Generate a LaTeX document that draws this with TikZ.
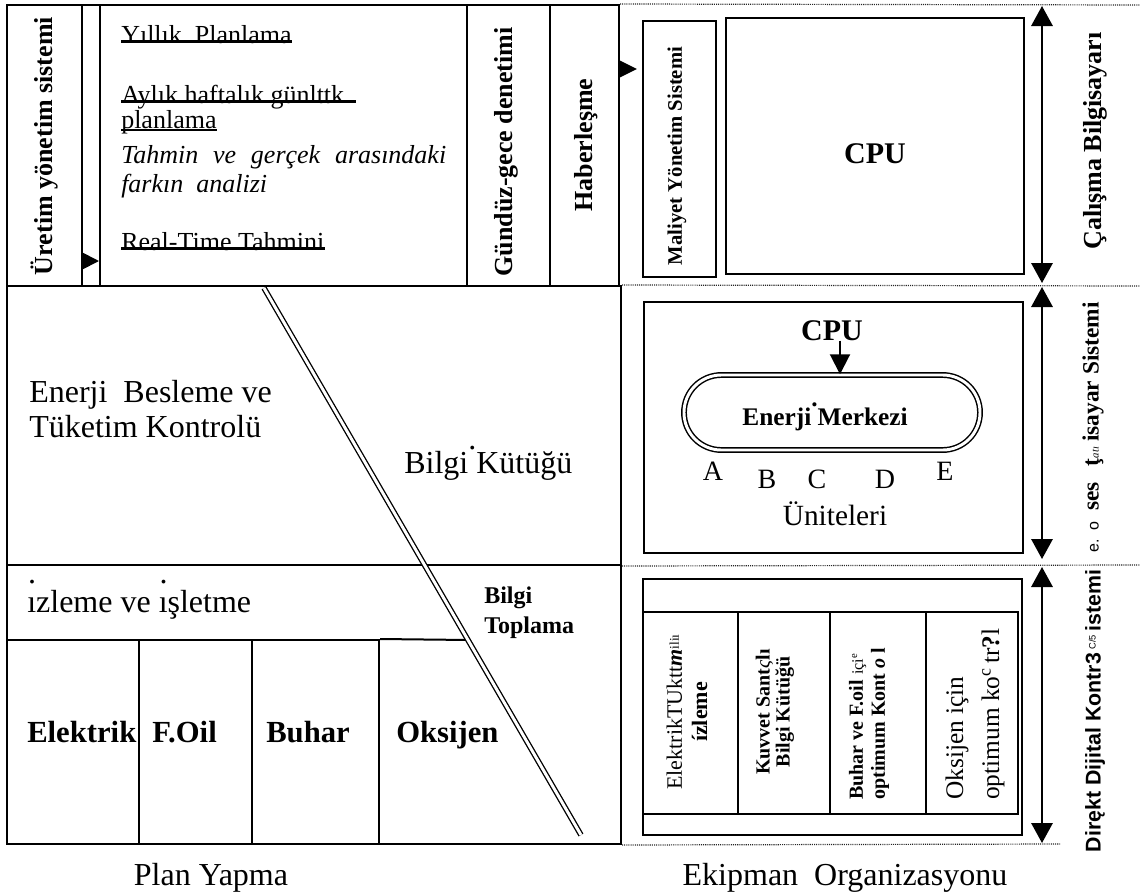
\documentclass[tikz,border=0pt]{standalone}
\usepackage{fontspec}
\setmainfont{Liberation Serif}
\setsansfont{Liberation Sans}
\usetikzlibrary{arrows.meta,fit,calc}
% dot floating above a letter, and a high dot for a dotless i
\newcommand{\rdot}{\rlap{\raisebox{0.72em}{.}}}
\newcommand{\hidot}{\rlap{\raisebox{0.9em}{\kern0.03em.}}}
\newcommand{\fsz}[2]{\fontsize{#1}{#2}\selectfont}
\begin{document}
\begin{tikzpicture}[x=0.75pt,y=-0.75pt,
  box/.style={draw,line width=1.5pt,inner sep=0pt},
  lbl/.style={inner sep=0pt},
  vlbl/.style={inner sep=0pt,rotate=90},
  tri/.style={line width=1.5pt,-{Triangle[width=13.5pt,length=13.5pt]}},
  dbl/.style={line width=1.6pt,{Triangle[width=16pt,length=15pt]}-{Triangle[width=16pt,length=15pt]}},
  dotted rule/.style={line width=0.9pt,dash pattern=on 0.8pt off 0.8pt,black!85},
  strike/.style={line width=1.8pt},
  plantext/.style={lbl,anchor=base west,font=\fsz{19.5}{23}},
  bigtext/.style={lbl,anchor=base west,font=\fsz{24}{28}},
  cell/.style={lbl,anchor=base west,font=\bfseries\fsz{23}{27}},
]
\useasboundingbox (0,0) rectangle (1140,893);

% ---------- top row: planning strip ----------
\node[box,fit={(7,5) (82,286)}] (uretim) {};
\node[box,fit={(82,5) (100,286)}] (gap) {};
\node[box,fit={(100,5) (467,286)}] (plan) {};
\node[box,fit={(467,5) (550,286)}] (gunduz) {};
\node[box,fit={(550,5) (619,286)}] (haber) {};

\node[vlbl,font=\bfseries\fsz{19.5}{23}] at (44,146) {Üretim yönetim sistemi};
\node[vlbl,font=\bfseries\fsz{19.5}{23}] at (506,152) {Gündüz-gece denetimi};
\node[vlbl,font=\bfseries\fsz{19.5}{23}] at (586,145) {Haberleşme};

\coordinate (ua) at (0,261);
\draw[tri] (uretim.east |- ua) -- (plan.west |- ua);

\node[plantext] (p1) at (121,43) {Yıllık\ \ Planlama};
\draw[strike] ([yshift=1.2pt]p1.base west) -- ([yshift=1.2pt]p1.base east);
\node[plantext] (p2) at (121,103) {Aylık haftalık günlttk};
\draw[strike] ([yshift=1.2pt]p2.base west) -- ([xshift=9pt,yshift=1.2pt]p2.base east);
\node[plantext] (p3) at (121,128) {planlama};
\draw[strike] ([yshift=-1.5pt]p3.base west) -- ([yshift=-1.5pt]p3.base east);
\node[plantext,font=\itshape\fsz{19.5}{23}] (p4) at (121,163) {\makebox[243.75pt][s]{Tahmin ve gerçek arasındaki}};
\node[plantext,font=\itshape\fsz{19.5}{23}] (p5) at (121,192) {farkın\ \ analizi};
\node[plantext] (p6) at (121,250) {Real-Time Tahmini};
\draw[strike] ([yshift=1.2pt]p6.base west) -- ([yshift=1.2pt]p6.base east);

% ---------- left panel ----------
\node[box,fit={(7,286) (621,565)}] (energy) {};
\node[box,fit={(7,565) (621,844)}] (lower) {};
\node[box,fit={(7,640) (139,844)}] (elb) {};
\node[box,fit={(139,640) (252,844)}] (fob) {};
\node[box,fit={(252,640) (379,844)}] (bub) {};

\coordinate (d1) at (264,288);
\coordinate (d2) at (581,835);
\coordinate (d3) at ($(d1)!0.6435!(d2)$);
\draw[line width=1.5pt] (bub.north east) -- (d3);
\draw[double,line width=1pt,double distance=2.2pt] (d1) -- (d2);

\node[bigtext] at (29,402) {Enerji\ \ Besleme ve};
\node[bigtext] at (29,437) {Tüketim Kontrolü};
\node[bigtext] at (404,473) {Bilgi\rdot\ Kütüğü};
\node[bigtext] at (27,612) {\hidot ızleme ve \hidot ışletme};
\node[lbl,anchor=base west,font=\bfseries\fsz{18}{21}] at (484,603) {Bilgi};
\node[lbl,anchor=base west,font=\bfseries\fsz{18}{21}] at (484,633) {Toplama};
\node[cell] at (27,742) {Elektrik};
\node[cell] at (152,742) {F.Oil};
\node[cell] at (266,742) {Buhar};
\node[cell] at (396,742) {Oksijen};

\node[lbl,anchor=base,font=\fsz{24}{28}] at (211,885) {Plan Yapma};

% ---------- right panel: working computer ----------
\node[box,fit={(643,21) (716,277)}] (maliyet) {};
\node[vlbl,font=\bfseries\fsz{15.5}{18}] at (677,156) {Maliyet Yönetim Sistemi};
\node[box,fit={(726,18) (1024,274)}] (cpu1) {};
\node[lbl,anchor=base,font=\bfseries\fsz{22.5}{27}] at (875,163) {CPU};

\coordinate (hm) at (0,69);
\draw[line width=1.5pt,-{Triangle[width=13.5pt,length=14pt]},shorten >=3.75pt] (haber.east |- hm) -- (maliyet.west |- hm);

\node[vlbl,font=\bfseries\fsz{19.5}{23}] at (1095,141) {Çalışma Bilgisayarı};

% ---------- right panel: process computer ----------
\node[box,fit={(644,302) (1023,553)}] (pbox) {};
\node[lbl,anchor=base,font=\bfseries\fsz{22.5}{27}] (cpu2) at (832,340) {CPU};
\node[draw,double,line width=1.1pt,double distance=2.2pt,rounded corners=28pt,inner sep=0pt,fit={(684,375) (980,450)}] (merkez) {};
\coordinate (mc) at (840,0);
\draw[line width=1.5pt,-{Triangle[width=15pt,length=15pt]}] (cpu2.south -| mc) -- (merkez.north -| mc);
\node[lbl,anchor=base,font=\bfseries\fsz{19}{23}] at (825,425) {Enerji\rdot\ Merkezi};
\node[lbl,anchor=base,font=\fsz{21}{25}] at (713,480) {A};
\node[lbl,anchor=base,font=\fsz{21}{25}] at (767,488) {B};
\node[lbl,anchor=base,font=\fsz{21}{25}] at (817,488) {C};
\node[lbl,anchor=base,font=\fsz{21}{25}] at (885,488) {D};
\node[lbl,anchor=base,font=\fsz{21}{25}] at (945,480) {E};
\node[lbl,anchor=base,font=\fsz{22}{26}] at (835,525) {Üniteleri};

\node[vlbl,anchor=west,font=\bfseries\fsz{17.5}{20}] at (1093,553)
  {{\sffamily\mdseries\fsz{12}{14}e.\hspace{7pt}o}\hspace{8pt}ses\hspace{12pt}ţ{\mdseries\itshape\fsz{8}{9}atı}\hspace{4pt}isayar Sistemi};

% ---------- right panel: direct digital control ----------
\node[box,fit={(643,579) (1022,835)}] (ddc) {};
\node[box,fit={(643,612) (738,814)}] (c1) {};
\node[box,fit={(738,612) (830,814)}] (c2) {};
\node[box,fit={(830,612) (926,814)}] (c3) {};
\node[box,fit={(926,612) (1018,814)}] (c4) {};

\node[vlbl,align=center,font=\fsz{16.5}{19}] at (687,712)
  {ElektrikTUktt{\bfseries\itshape m}{\fsz{10}{19}\raisebox{0.5ex}{iliı}}\\{\bfseries ízleme}};
\node[vlbl,align=center,font=\bfseries\fsz{15}{15}] at (775,712)
  {Kuvvet Sant{\mdseries\itshape ς}lı\\Bilgi Kütüğü};
\node[vlbl,align=left,anchor=west,font=\bfseries\fsz{15}{16.5}] at (869,800)
  {Buhar ve F.oil {\mdseries\fsz{12}{16.5}içi\textsuperscript{e}}\\optimum Kont {\itshape o} l};
\node[vlbl,align=left,anchor=west,font=\fsz{19}{27}] at (975,800)
  {Oksijen için\\optimum ko\textsuperscript{c}\,tr{\bfseries ?}l};

\node[vlbl,font=\sffamily\bfseries\fsz{16}{19}] at (1095,711)
  {Dirękt Dijital Kontr3\,{\mdseries\fsz{7}{8}\raisebox{1ex}{C/5}}\,istemi};

\node[lbl,anchor=base,font=\fsz{24}{28}] at (845,885) {Ekipman\ \ Organizasyonu};

% ---------- level arrows and dotted separators ----------
\coordinate (t1) at (1042,6);   \coordinate (b1) at (1042,283);
\coordinate (t2) at (1042,287); \coordinate (b2) at (1042,559);
\coordinate (t3) at (1042,567); \coordinate (b3) at (1042,843);
\draw[dbl] (t1) -- (b1);
\draw[dbl] (t2) -- (b2);
\draw[dbl] (t3) -- (b3);

\coordinate (r0) at (1140,5);
\coordinate (r1) at (1140,286);
\coordinate (r2) at (1140,565);
\coordinate (r3) at (1060,844);
\draw[dotted rule] (haber.north east) -- (r0);
\draw[dotted rule] (energy.north east) -- (r1);
\draw[dotted rule] (energy.south east) -- (r2);
\draw[dotted rule] (lower.south east) -- (r3);
\end{tikzpicture}
\end{document}
